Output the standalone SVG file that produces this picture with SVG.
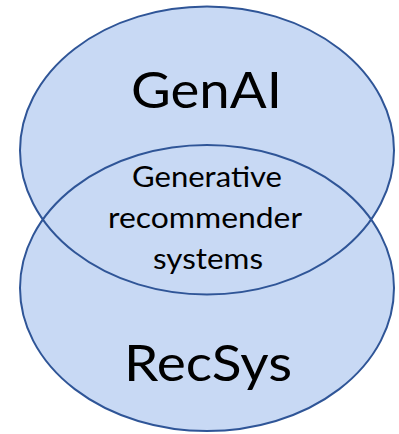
<svg xmlns="http://www.w3.org/2000/svg" xmlns:xlink="http://www.w3.org/1999/xlink" width="399" height="434" viewBox="0 0 399 434">
  <style>
    .area { fill: #C8D9F4; stroke: none; }
    .outline { fill: none; stroke: #2F5597; stroke-width: 2; }
    .big { font-family: Lato, "Liberation Sans", sans-serif; font-size: 50px; fill: #000; text-anchor: middle; }
    .mid { font-family: Lato, "Liberation Sans", sans-serif; font-size: 28px; fill: #000; text-anchor: middle; }
  </style>
  <defs>
    <ellipse id="shape-genai" cx="207" cy="150.5" rx="187" ry="144"/>
    <ellipse id="shape-recsys" cx="207" cy="288" rx="187" ry="143"/>
  </defs>
  <rect width="399" height="434" fill="#FFFFFF"/>

  <!-- filled areas of both sets -->
  <g id="genai">
    <use xlink:href="#shape-genai" class="area"/>
  </g>
  <g id="recsys">
    <use xlink:href="#shape-recsys" class="area"/>
  </g>

  <!-- set borders drawn above both fills so they stay visible in the overlap -->
  <g id="borders">
    <use xlink:href="#shape-genai" class="outline"/>
    <use xlink:href="#shape-recsys" class="outline"/>
  </g>

  <!-- labels -->
  <g id="genai-label">
    <text class="big" x="206.5" y="108" textLength="151" lengthAdjust="spacingAndGlyphs">GenAI</text>
  </g>
  <g id="overlap-label">
    <text class="mid" x="207" y="187" textLength="150" lengthAdjust="spacingAndGlyphs">Generative</text>
    <text class="mid" x="205" y="228" textLength="194" lengthAdjust="spacingAndGlyphs">recommender</text>
    <text class="mid" x="208" y="269" textLength="110" lengthAdjust="spacingAndGlyphs">systems</text>
  </g>
  <g id="recsys-label">
    <text class="big" x="208" y="381" textLength="168" lengthAdjust="spacingAndGlyphs">RecSys</text>
  </g>
</svg>
